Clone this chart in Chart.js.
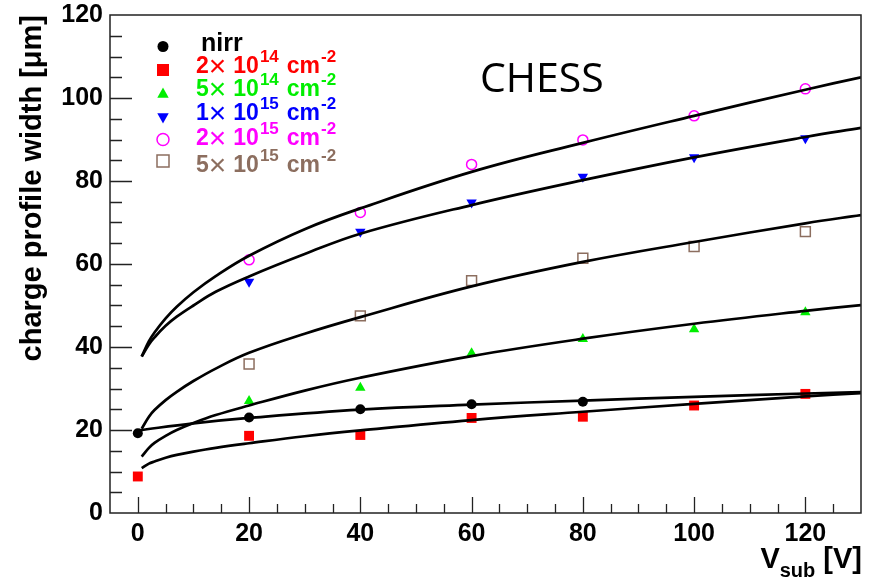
<!DOCTYPE html>
<html>
<head>
<meta charset="utf-8">
<title>CHESS charge profile width</title>
<script src="https://cdn.jsdelivr.net/npm/chart.js@4.4.1/dist/chart.umd.min.js"></script>
<style>
  html, body { margin: 0; padding: 0; background: #fff; }
  canvas { display: block; }
</style>
</head>
<body>
<canvas id="chess" width="875" height="581"></canvas>
<script>
// measured points, V_sub in volts
const voltages = [0, 20, 40, 60, 80, 100, 120];
const nirrWidth = [19.2, 23.0, 25.0, 26.2, 26.8];            // 0..80 V only
const width2e14 = [8.8, 18.6, 18.8, 22.9, 23.2, 25.9, 28.7];
const width5e14 = [27.0, 30.2, 38.5, 41.9, 44.3, 48.4];      // from 20 V
const width1e15 = [55.7, 67.8, 74.8, 81.0, 85.7, 90.3];
const width2e15 = [61.0, 72.4, 84.0, 89.9, 95.7, 102.2];
const width5e15 = [35.9, 47.5, 56.0, 61.4, 64.2, 67.8];

// fit curves
const fitVoltages = [0.7, 2, 3, 5, 7, 10, 14, 20, 30, 40, 60, 80, 100, 120, 130];
const fit2e14 = [10.8, 11.9, 12.4, 13.3, 14.0, 14.8, 15.7, 16.8, 18.5, 19.9, 22.4, 24.4, 26.3, 28.1, 28.9];
const fit5e14 = [13.6, 15.7, 16.9, 18.6, 20.0, 21.7, 23.6, 25.9, 29.5, 32.6, 37.8, 42.0, 45.6, 48.7, 50.1];
const fit1e15 = [37.7, 40.6, 42.3, 45.1, 47.3, 50.0, 53.3, 57.0, 62.4, 67.3, 74.2, 80.2, 85.7, 90.6, 92.8];
const fit2e15 = [37.7, 41.4, 43.5, 46.9, 49.7, 53.2, 57.1, 62.0, 68.4, 73.4, 82.2, 89.2, 95.7, 102.0, 105.0];
const fit5e15 = [20.3, 23.2, 24.8, 27.2, 29.2, 31.8, 34.8, 38.6, 43.2, 47.2, 54.6, 60.5, 65.3, 69.8, 71.8];
const nirrFitVoltages = [0, 10, 20, 40, 60, 80, 100, 120, 130];
const nirrFit = [19.9, 21.6, 22.9, 24.9, 26.1, 27.1, 28.0, 28.8, 29.15];

// legend
const seriesNames = ['nirr', '2e14', '5e14', '1e15', '2e15', '5e15'];
const fluenceMantissa = [null, 2, 5, 1, 2, 5];
const fluenceExponent = [null, 14, 14, 15, 15, 15];
const seriesColors = ['#000000', '#ff0000', '#00ee00', '#0000ff', '#ff00ff', '#8c6e5f'];

// labelled ticks
const xTicks = [0, 20, 40, 60, 80, 100, 120];
const yTicks = [0, 20, 40, 60, 80, 100, 120];

const FONT = '"Liberation Sans", Arial, Helvetica, sans-serif';

const pairs = ( xs, ys ) => ys.map( ( y, i ) => ({ x: xs[i], y }) );

// marker looks, same order as seriesNames
const markers = [
  { style: 'circle', radius: 5, filled: true, rotation: 0 },
  { style: 'rect', radius: 7, filled: true, rotation: 0 },
  { style: 'triangle', radius: 6, filled: true, rotation: 0 },
  { style: 'triangle', radius: 6, filled: true, rotation: 180 },
  { style: 'circle', radius: 5, filled: false, rotation: 0 },
  { style: 'rect', radius: 7, filled: false, rotation: 0 }
];

const pointSets = [
  pairs( voltages, nirrWidth ),
  pairs( voltages, width2e14 ),
  pairs( voltages.slice( 1 ), width5e14 ),
  pairs( voltages.slice( 1 ), width1e15 ),
  pairs( voltages.slice( 1 ), width2e15 ),
  pairs( voltages.slice( 1 ), width5e15 )
];

const fitSets = [
  pairs( nirrFitVoltages, nirrFit ),
  pairs( fitVoltages, fit2e14 ),
  pairs( fitVoltages, fit5e14 ),
  pairs( fitVoltages, fit1e15 ),
  pairs( fitVoltages, fit2e15 ),
  pairs( fitVoltages, fit5e15 )
];

const datasets = [];

fitSets.forEach( ( data, i ) => {
  datasets.push({
    label: seriesNames[i] + ' fit',
    data,
    showLine: true,
    borderColor: '#000',
    borderWidth: 2.7,
    pointRadius: 0,
    tension: 0.4,
    order: 0
  });
});

pointSets.forEach( ( data, i ) => {
  const m = markers[i];
  datasets.push({
    label: seriesNames[i],
    data,
    showLine: false,
    pointStyle: m.style,
    pointRadius: m.radius,
    pointRotation: m.rotation,
    pointBorderWidth: m.filled ? 0 : 1.5,
    pointBorderColor: seriesColors[i],
    pointBackgroundColor: m.filled ? seriesColors[i] : 'rgba(0,0,0,0)',
    order: 1
  });
});

function drawInnerTicks( ctx, scale, area, majors, majorLen, minorLen ) {
  ctx.beginPath();
  for ( const tick of scale.ticks ) {
    if ( tick.value <= scale.min || tick.value >= scale.max ) continue;
    const len = majors.includes( tick.value ) ? majorLen : minorLen;
    const p = Math.round( scale.getPixelForValue( tick.value ) ) + 0.5;
    if ( scale.axis === 'x' ) {
      ctx.moveTo( p, area.bottom );
      ctx.lineTo( p, area.bottom - len );
    } else {
      ctx.moveTo( area.left, p );
      ctx.lineTo( area.left + len, p );
    }
  }
  ctx.stroke();
}

function drawMarker( ctx, m, color, x, y, r ) {
  ctx.beginPath();
  if ( m.style === 'circle' ) {
    ctx.arc( x, y, r, 0, Math.PI * 2 );
  } else if ( m.style === 'rect' ) {
    ctx.rect( x - r, y - r, r * 2, r * 2 );
  } else {
    const dir = m.rotation ? 1 : -1;
    ctx.moveTo( x, y + dir * r );
    ctx.lineTo( x - r * 0.95, y - dir * r * 0.7 );
    ctx.lineTo( x + r * 0.95, y - dir * r * 0.7 );
    ctx.closePath();
  }
  if ( m.filled ) {
    ctx.fillStyle = color;
    ctx.fill();
  } else {
    ctx.strokeStyle = color;
    ctx.lineWidth = 1.5;
    ctx.stroke();
  }
}

// "2× 10^14 cm^-2" drawn piece by piece
function drawFluence( ctx, x, y, mant, exp, color ) {
  const parts = [
    { t: String( mant ), f: 'bold 23px ' + FONT, gap: 0, dy: 0 },
    { t: '\u00d7', f: 'normal 30px ' + FONT, gap: 0, dy: 3 },
    { t: '10', f: 'bold 23px ' + FONT, gap: 7, dy: 0 },
    { t: String( exp ), f: 'bold 17px ' + FONT, gap: 1, dy: -11 },
    { t: 'cm', f: 'bold 23px ' + FONT, gap: 8, dy: 0 },
    { t: '-2', f: 'bold 17px ' + FONT, gap: 1, dy: -11 }
  ];
  ctx.fillStyle = color;
  let cx = x;
  for ( const p of parts ) {
    ctx.font = p.f;
    cx += p.gap;
    ctx.fillText( p.t, cx, y + p.dy );
    cx += ctx.measureText( p.t ).width;
  }
}

const decorPlugin = {
  id: 'decor',
  afterDatasetsDraw( chart ) {
    const { ctx, chartArea: area, scales } = chart;
    ctx.save();

    // frame + ticks pointing inward
    ctx.strokeStyle = '#222';
    ctx.lineWidth = 1.5;
    ctx.strokeRect( area.left, area.top, area.right - area.left, area.bottom - area.top );
    ctx.lineWidth = 1.3;
    drawInnerTicks( ctx, scales.x, area, xTicks, 16, 9 );
    drawInnerTicks( ctx, scales.y, area, yTicks, 22, 12 );

    // legend
    const markerX = 163;
    const markerY = [46.5, 70, 93.5, 117.5, 139.5, 161];
    const textY = [50.5, 73, 96, 120, 145, 172];
    ctx.textAlign = 'left';
    ctx.textBaseline = 'alphabetic';
    seriesNames.forEach( ( name, i ) => {
      drawMarker( ctx, markers[i], seriesColors[i], markerX, markerY[i], i === 0 ? 5.5 : 6 );
      if ( fluenceMantissa[i] === null ) {
        ctx.font = 'bold 25px ' + FONT;
        ctx.fillStyle = seriesColors[i];
        ctx.fillText( name, 201, textY[i] );
      } else {
        drawFluence( ctx, 196, textY[i], fluenceMantissa[i], fluenceExponent[i], seriesColors[i] );
      }
    });

    // CHESS label
    ctx.fillStyle = '#000';
    ctx.font = '41px "Open Sans", sans-serif';
    ctx.fillText( 'CHESS', 480, 92 );

    // x title: V_sub [V], right aligned
    const big = 'bold 29px ' + FONT;
    const small = 'bold 20px ' + FONT;
    ctx.font = big;
    const wV = ctx.measureText( 'V' ).width;
    const wUnit = ctx.measureText( ' [V]' ).width;
    ctx.font = small;
    const wSub = ctx.measureText( 'sub' ).width;
    let tx = area.right + 1 - ( wV + wSub + wUnit );
    ctx.font = big;
    ctx.fillText( 'V', tx, 568 );
    tx += wV;
    ctx.font = small;
    ctx.fillText( 'sub', tx, 577 );
    tx += wSub;
    ctx.font = big;
    ctx.fillText( ' [V]', tx, 568 );

    ctx.restore();
  }
};

const tickFont = { family: FONT, size: 25, weight: 'bold' };

const chart = new Chart( document.getElementById( 'chess' ), {
  type: 'scatter',
  data: { datasets },
  options: {
    responsive: false,
    animation: false,
    devicePixelRatio: 1,
    layout: { padding: { top: 15, right: 14, left: 0, bottom: 0 } },
    plugins: {
      legend: { display: false },
      tooltip: { enabled: false }
    },
    scales: {
      x: {
        type: 'linear',
        min: -5,
        max: 130,
        grid: { display: false, drawTicks: false },
        border: { display: false },
        ticks: {
          stepSize: 5,
          autoSkip: false,
          maxRotation: 0,
          padding: 6,
          color: '#000',
          font: tickFont,
          callback: ( value ) => xTicks.includes( value ) ? String( value ) : ''
        },
        afterFit: ( scale ) => {
          scale.height = 68;
          scale.paddingLeft = 0;
          scale.paddingRight = 0;
        }
      },
      y: {
        type: 'linear',
        min: 0,
        max: 120,
        grid: { display: false, drawTicks: false },
        border: { display: false },
        ticks: {
          stepSize: 5,
          autoSkip: false,
          padding: 7,
          color: '#000',
          font: tickFont,
          callback: ( value ) => yTicks.includes( value ) ? String( value ) : ''
        },
        title: {
          display: true,
          text: 'charge profile width [\u03bcm]',
          align: 'end',
          color: '#000',
          font: { family: FONT, size: 29, weight: 'bold' },
          padding: { top: 16, bottom: 0 }
        },
        afterFit: ( scale ) => {
          scale.width = 110;
          scale.paddingTop = 0;
          scale.paddingBottom = 0;
        }
      }
    }
  },
  plugins: [decorPlugin]
});
</script>
</body>
</html>
